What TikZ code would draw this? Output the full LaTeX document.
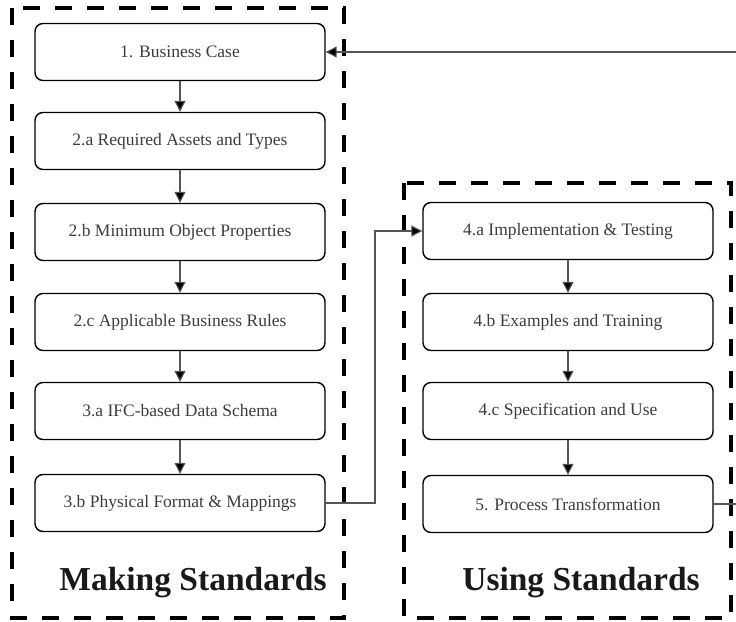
\documentclass[tikz,border=0pt]{standalone}
\usepackage{fontspec}
\setmainfont{Liberation Serif}
\usepackage{tikz}
\usetikzlibrary{arrows.meta}

\definecolor{boxtext}{HTML}{3C3C3C}
\definecolor{linegray}{HTML}{555555}

\begin{document}
\begin{tikzpicture}[x=1pt, y=-1pt,
    stdbox/.style={draw=black, line width=1.4pt, rounded corners=8pt,
        minimum width=290pt, minimum height=57pt, inner sep=0pt,
        text=boxtext, font=\fontsize{17.5}{20}\selectfont},
    conn/.style={draw=linegray, line width=1.1pt,
        -{Triangle[length=11pt, width=11pt, fill=black]}},
    frame/.style={draw=black, line width=4.2pt, dash pattern=on 17pt off 15pt},
    frametitle/.style={font=\fontsize{33.5}{38}\selectfont\bfseries, text=black!90}]
    \useasboundingbox (0,0) rectangle (736,621);

    % --- 1. 定義兩欄的中心 x 座標 ---
    \def\xL{180}
    \def\xR{568}

    % --- 2. 繪製虛線外框 ---
    \draw[frame] (12,8) rectangle (344,618);
    \draw[frame] (404,183) rectangle (731,618);

    % --- 3. 左欄：Making Standards ---
    \node[stdbox] (bc) at (\xL,52)  {1. Business Case};
    \node[stdbox] (ra) at (\xL,141) {2.a Required Assets and Types};
    \node[stdbox] (mo) at (\xL,232) {2.b Minimum Object Properties};
    \node[stdbox] (ab) at (\xL,322) {2.c Applicable Business Rules};
    \node[stdbox] (ds) at (\xL,411) {3.a IFC-based Data Schema};
    \node[stdbox] (pf) at (\xL,503) {3.b Physical Format \& Mappings};

    % --- 4. 右欄：Using Standards ---
    \node[stdbox] (it) at (\xR,231) {4.a Implementation \& Testing};
    \node[stdbox] (et) at (\xR,322) {4.b Examples and Training};
    \node[stdbox] (su) at (\xR,411) {4.c Specification and Use};
    \node[stdbox] (pt) at (\xR,504) {5. Process Transformation};

    % --- 5. 標題 ---
    \node[frametitle] (mk) at (193,583) {Making Standards};
    \node[frametitle] (us) at (581,583) {Using Standards};

    % --- 6. 欄內箭頭 ---
    \draw[conn] (bc) -- (ra);
    \draw[conn] (ra) -- (mo);
    \draw[conn] (mo) -- (ab);
    \draw[conn] (ab) -- (ds);
    \draw[conn] (ds) -- (pf);
    \draw[conn] (it) -- (et);
    \draw[conn] (et) -- (su);
    \draw[conn] (su) -- (pt);

    % --- 7. 跨欄與回饋連線 ---
    \coordinate (kink) at (375,503);
    \draw[conn] (pf.east) -- (kink) |- (it.west);
    \coordinate (back) at (770,504);
    \draw[conn] (pt.east) -- (back) |- (bc.east);
\end{tikzpicture}
\end{document}
